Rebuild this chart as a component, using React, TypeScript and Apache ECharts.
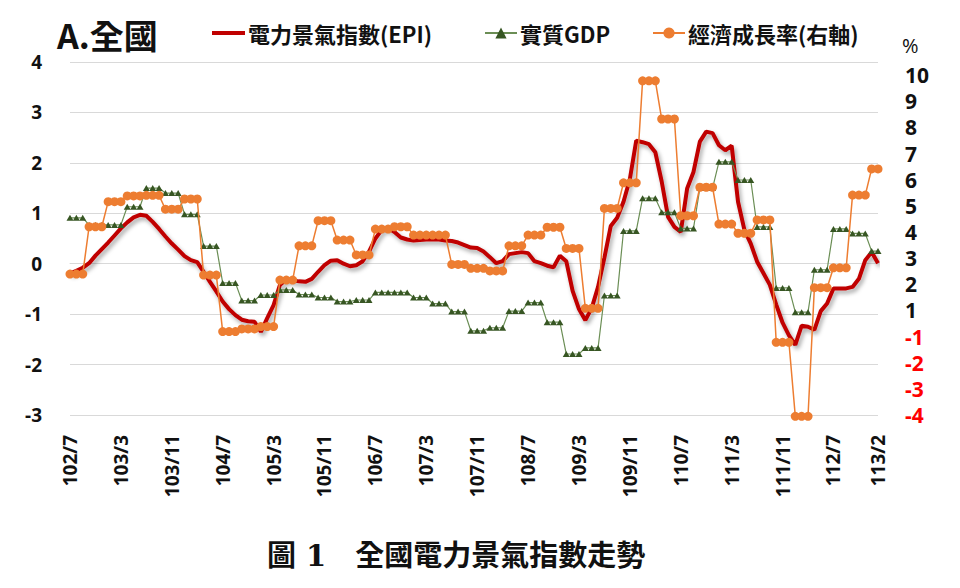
import React, { useEffect, useRef } from 'react';
import * as echarts from 'echarts';

// ---- categories: ROC year/month, 102/7 .. 113/2 ----
const START_YEAR = 102;
const START_MONTH = 7;
const MONTH_COUNT = 128;
const months: string[] = [];
for (let k = 0; k < MONTH_COUNT; k++) {
  const m0 = START_MONTH - 1 + k;
  months.push(`${START_YEAR + Math.floor(m0 / 12)}/${(m0 % 12) + 1}`);
}

// ---- 電力景氣指數(EPI), monthly, left axis ----
const epi = [
  -0.19, -0.14, -0.08, 0.01, 0.16, 0.29, 0.42, 0.56, 0.70, 0.82,
  0.92, 0.97, 0.95, 0.83, 0.69, 0.54, 0.40, 0.28, 0.15, 0.07,
  0.03, -0.16, -0.36, -0.55, -0.75, -0.90, -1.02, -1.11, -1.14, -1.15,
  -1.35, -1.08, -0.82, -0.42, -0.31, -0.33, -0.35, -0.36, -0.30, -0.16,
  -0.03, 0.06, 0.07, 0.00, -0.05, -0.03, 0.05, 0.24, 0.50, 0.67,
  0.71, 0.63, 0.52, 0.48, 0.46, 0.47, 0.48, 0.48, 0.48, 0.46,
  0.45, 0.42, 0.37, 0.32, 0.31, 0.24, 0.13, 0.01, 0.05, 0.19,
  0.21, 0.23, 0.21, 0.05, 0.01, -0.04, -0.07, 0.16, 0.05, -0.54,
  -0.90, -1.12, -0.88, -0.46, 0.12, 0.75, 0.91, 1.23, 1.68, 2.44,
  2.41, 2.37, 2.21, 1.63, 0.93, 0.73, 0.63, 1.49, 1.82, 2.42,
  2.62, 2.59, 2.35, 2.25, 2.34, 1.23, 0.67, 0.40, 0.04, -0.19,
  -0.42, -0.81, -1.17, -1.42, -1.61, -1.23, -1.25, -1.31, -0.94, -0.79,
  -0.49, -0.49, -0.49, -0.46, -0.30, 0.07, 0.23, 0.01,
];

// ---- 實質GDP, quarterly (102Q3 .. 113Q1), left axis ----
const gdpQuarterly = [
  0.91, 0.77, 0.77, 1.13, 1.50, 1.40, 0.98, 0.35, -0.38, -0.73,
  -0.62, -0.52, -0.61, -0.67, -0.75, -0.72, -0.57, -0.57, -0.67, -0.79,
  -0.95, -1.33, -1.27, -0.94, -0.77, -1.16, -1.79, -1.67, -0.63, 0.65,
  1.30, 1.02, 0.70, 1.50, 2.02, 1.66, 0.73, -0.48, -0.96, -0.12,
  0.69, 0.60, 0.25,
];

// ---- 經濟成長率(右軸), quarterly, plotted on the right axis scale ----
const growthQuarterly = [
  2.39, 4.20, 5.16, 5.38, 5.40, 4.87, 5.26, 2.35, 0.19, 0.29,
  0.38, 2.16, 3.47, 4.43, 3.69, 3.12, 4.11, 4.20, 3.88, 3.88,
  2.76, 2.61, 2.51, 3.47, 3.88, 4.18, 3.37, 1.08, 4.90, 5.88,
  9.78, 8.32, 4.62, 5.71, 4.30, 3.95, 4.46, -0.22, -3.05, 1.87,
  2.63, 5.41, 6.41,
];

// right axis tick labels: 10 … 1, then -1 … -4 (no 0)
const rightLabel = (v: number) => (v > 10 ? '' : v > 0 ? String(v) : String(v - 1));

const expandQuarterly = (q: number[], n: number) => {
  const out: number[] = [];
  for (let k = 0; k < n; k++) out.push(q[Math.floor(k / 3)]);
  return out;
};

const gdp = expandQuarterly(gdpQuarterly, MONTH_COUNT);
const growth = expandQuarterly(growthQuarterly, MONTH_COUNT);

const LATIN = '"Open Sans", "Noto Sans CJK TC", sans-serif';
const CJK = '"Noto Sans CJK TC", sans-serif';

export default function App() {
  const ref = useRef<HTMLDivElement>(null);
  useEffect(() => {
    if (!ref.current) return;
    const chart = echarts.init(ref.current, undefined, { renderer: 'svg' });
    const legendText = { fontSize: 22, fontWeight: 'bold', fontFamily: CJK, color: '#111', padding: [0, 0, 0, -2] };
    chart.setOption({
      animation: false,
      backgroundColor: '#fff',
      title: [
        {
          text: 'A.全國',
          left: 52,
          top: 12,
          textStyle: { fontSize: 34, fontWeight: 'bold', fontFamily: CJK, color: '#111' },
        },
        {
          text: '圖 1　全國電力景氣指數走勢',
          left: 262,
          top: 536,
          textStyle: { fontSize: 29, fontWeight: 'bold', fontFamily: '"DejaVu Serif", "Noto Sans CJK TC", serif', color: '#111' },
        },
      ],
      legend: [
        {
          data: [{ name: '電力景氣指數(EPI)', icon: 'rect' }],
          left: 207,
          top: 17,
          itemWidth: 33,
          itemHeight: 4,
          textStyle: legendText,
        },
        {
          data: ['實質GDP'],
          left: 479,
          top: 17,
          itemWidth: 32,
          itemHeight: 14,
          textStyle: legendText,
        },
        {
          data: ['經濟成長率(右軸)'],
          left: 647,
          top: 17,
          itemWidth: 32,
          itemHeight: 14,
          textStyle: legendText,
        },
      ],
      graphic: [
        {
          type: 'text',
          left: 902,
          top: 35,
          style: { text: '%', fontSize: 20, fontFamily: LATIN, fill: '#111' },
        },
      ],
      grid: { left: 70, right: 82, top: 62, bottom: 173 },
      xAxis: {
        type: 'category',
        data: months,
        boundaryGap: false,
        axisLine: { show: true, lineStyle: { color: '#D9D9D9' } },
        axisTick: { show: false },
        axisLabel: {
          interval: (idx: number) => idx % 8 === 0 || idx === MONTH_COUNT - 1,
          rotate: 90,
          margin: 20,
          fontSize: 19,
          fontWeight: 'bold',
          fontFamily: LATIN,
          color: '#111',
        },
      },
      yAxis: [
        {
          type: 'value',
          min: -3,
          max: 4,
          interval: 1,
          axisLine: { show: false },
          axisTick: { show: false },
          splitLine: { lineStyle: { color: '#D9D9D9', width: 1 } },
          axisLabel: { margin: 28, fontSize: 19, fontWeight: 'bold', fontFamily: LATIN, color: '#111' },
        },
        {
          type: 'value',
          position: 'right',
          min: -3,
          max: 10.5,
          interval: 1,
          axisLine: { show: false },
          axisTick: { show: false },
          splitLine: { show: false },
          axisLabel: {
            margin: 27,
            fontSize: 21,
            fontWeight: 'bold',
            fontFamily: LATIN,
            formatter: (v: number) => rightLabel(v),
            color: (v: any) => (Number(v) <= 0 ? '#FF0000' : '#111'),
          },
        },
      ],
      series: [
        {
          name: '電力景氣指數(EPI)',
          type: 'line',
          data: epi,
          yAxisIndex: 0,
          symbol: 'none',
          lineStyle: {
            color: '#C00000',
            width: 4,
            shadowColor: 'rgba(0,0,0,0.35)',
            shadowBlur: 4,
            shadowOffsetX: 2,
            shadowOffsetY: 3,
          },
          itemStyle: { color: '#C00000' },
          z: 2,
        },
        {
          name: '實質GDP',
          type: 'line',
          data: gdp,
          yAxisIndex: 0,
          symbol: 'triangle',
          symbolSize: [7, 6],
          showAllSymbol: true,
          lineStyle: { color: '#6B8E55', width: 1.2 },
          itemStyle: { color: '#375623' },
          z: 3,
        },
        {
          name: '經濟成長率(右軸)',
          type: 'line',
          data: growth,
          yAxisIndex: 1,
          symbol: 'circle',
          symbolSize: 9,
          showAllSymbol: true,
          clip: false,
          lineStyle: { color: '#ED7D31', width: 1.5 },
          itemStyle: { color: '#ED7D31' },
          z: 4,
        },
      ],
    });
    return () => chart.dispose();
  }, []);
  return (
    <div
      ref={ref}
      style={{ position: 'fixed', left: 0, top: 0, width: 960, height: 588, background: '#fff' }}
    />
  );
}
